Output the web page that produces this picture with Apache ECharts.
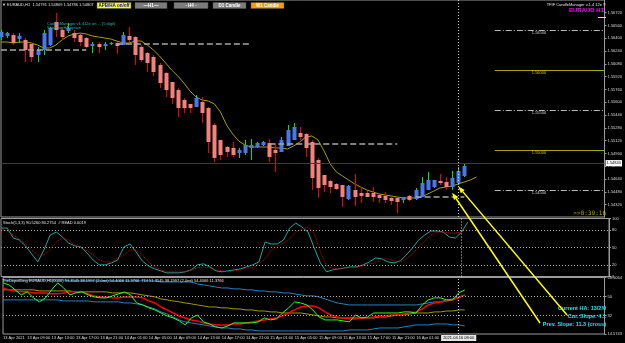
<!DOCTYPE html>
<html>
<head>
<meta charset="UTF-8">
<script src="https://cdn.jsdelivr.net/npm/echarts@6/dist/echarts.min.js"></script>
<title></title>
<style>
html, body { margin: 0; padding: 0; background: #000; }
#main { width: 625px; height: 343px; }
</style>
</head>
<body>
<div id="main"></div>
<script type="text/javascript">
// H1 bars, 13 Apr 05:00 .. 16 Apr 09:00
var openP = [1.56416,1.56429,1.56441,1.56391,1.56379,1.56329,1.56191,1.56254,1.56316,1.56604,
    1.56504,1.56491,1.56466,1.56441,1.56404,1.56304,1.56329,1.56304,1.56329,1.56341,
    1.56316,1.56429,1.56416,1.56291,1.56216,1.56166,1.56066,1.55966,1.55854,1.55754,
    1.55629,1.55579,1.55541,1.55604,1.55529,1.55316,1.55129,1.55041,1.55029,1.54966,
    1.54966,1.55029,1.55041,1.55066,1.55091,1.55004,1.54979,1.55054,1.55129,1.55216,
    1.55204,1.55104,1.54879,1.54691,1.54616,1.54579,1.54566,1.54391,1.54504,1.54466,
    1.54466,1.54466,1.54441,1.54429,1.54404,1.54404,1.54379,1.54429,1.54391,1.54416,
    1.54504,1.54541,1.54616,1.54604,1.54541,1.54591,1.54679];
var closeP = [1.56479,1.56466,1.56341,1.56429,1.56254,1.56166,1.56254,1.56466,1.56529,1.56504,
    1.56416,1.56529,1.56404,1.56354,1.56291,1.56329,1.56291,1.56329,1.56341,1.56304,
    1.56441,1.56379,1.56191,1.56129,1.56091,1.55979,1.55841,1.55754,1.55654,1.55529,
    1.55529,1.55529,1.55654,1.55466,1.55104,1.54904,1.54941,1.54979,1.54941,1.55004,
    1.55066,1.55066,1.55091,1.55104,1.54916,1.54966,1.55129,1.55254,1.55291,1.55166,
    1.55029,1.54654,1.54529,1.54566,1.54541,1.54516,1.54416,1.54554,1.54416,1.54429,
    1.54416,1.54416,1.54404,1.54379,1.54366,1.54354,1.54416,1.54379,1.54504,1.54591,
    1.54629,1.54629,1.54591,1.54541,1.54654,1.54741,1.54804];
var lowP = [1.56379,1.56404,1.56316,1.56341,1.56104,1.56104,1.56104,1.56191,1.56304,1.56416,
    1.56379,1.56466,1.56354,1.56304,1.56279,1.56216,1.56216,1.56254,1.56316,1.56204,
    1.56316,1.56354,1.56066,1.56104,1.55979,1.55929,1.55779,1.55666,1.55579,1.55416,
    1.55466,1.55466,1.55541,1.55341,1.54966,1.54854,1.54879,1.54916,1.54916,1.54904,
    1.54941,1.54879,1.55029,1.55054,1.54854,1.54729,1.54979,1.55054,1.55129,1.55129,
    1.54916,1.54504,1.54404,1.54479,1.54466,1.54504,1.54291,1.54379,1.54304,1.54341,
    1.54416,1.54354,1.54341,1.54341,1.54316,1.54216,1.54341,1.54366,1.54379,1.54416,
    1.54504,1.54529,1.54566,1.54504,1.54504,1.54566,1.54666];
var highP = [1.56504,1.56479,1.56466,1.56466,1.56404,1.56341,1.56291,1.56504,1.56541,1.56716,
    1.56541,1.56591,1.56504,1.56466,1.56416,1.56354,1.56354,1.56354,1.56354,1.56354,
    1.56479,1.56541,1.56429,1.56316,1.56229,1.56191,1.56091,1.55979,1.55854,1.55779,
    1.55654,1.55579,1.55691,1.55666,1.55541,1.55341,1.55129,1.55054,1.55104,1.55029,
    1.55129,1.55141,1.55104,1.55116,1.55141,1.55091,1.55166,1.55316,1.55341,1.55291,
    1.55216,1.55129,1.54904,1.54691,1.54629,1.54591,1.54566,1.54566,1.54704,1.54541,
    1.54491,1.54541,1.54466,1.54479,1.54416,1.54416,1.54416,1.54441,1.54529,1.54666,
    1.54729,1.54629,1.54704,1.54666,1.54741,1.54791,1.54841];
// shifted moving average (runs two bars past the last candle)
var maLine = [1.56354,1.56354,1.56341,1.56354,1.56354,1.56341,1.56316,1.56279,1.56279,1.56316,
    1.56379,1.56429,1.56454,1.56466,1.56454,1.56429,1.56416,1.56404,1.56391,1.56366,
    1.56341,1.56341,1.56366,1.56366,1.56316,1.56254,1.56179,1.56091,1.56004,1.55929,
    1.55841,1.55741,1.55666,1.55629,1.55616,1.55579,1.55479,1.55316,1.55204,1.55116,
    1.55066,1.55041,1.55041,1.55041,1.55041,1.55029,1.55029,1.55016,1.55054,1.55104,
    1.55166,1.55179,1.55129,1.54991,1.54829,1.54729,1.54679,1.54629,1.54579,1.54541,
    1.54504,1.54479,1.54454,1.54441,1.54429,1.54416,1.54404,1.54404,1.54404,1.54416,
    1.54454,1.54491,1.54529,1.54541,1.54554,1.54579,1.54604,1.54629,1.54666];

var stochMain = [83.5,83.5,66.4,62.9,52.7,38.9,25.2,45.8,71.5,76.7,
    68.1,57.8,52.7,50.9,40.6,28.6,20.1,20.1,23.5,28.6,
    50.9,56.1,42.4,26.9,18.4,13.2,9.8,6.3,6.3,6.3,
    8.1,11.5,20.1,21.8,16.6,9.8,8.1,9.8,11.5,13.2,
    16.6,20.1,25.2,59.5,56.1,56.1,62.9,83.5,92.1,85.2,
    76.7,49.2,23.5,8.1,11.5,13.2,14.9,16.6,16.6,20.1,
    25.2,32.1,30.4,25.2,23.5,26.9,37.2,49.2,62.9,71.5,
    78.4,78.4,76.7,68.1,66.4,76.7,93.8];
var stochSignal = [81.8,78.4,71.5,64.7,56.1,45.8,37.2,37.2,45.8,59.5,
    66.4,62.9,54.4,49.2,44.1,37.2,28.6,25.2,25.2,32.1,
    37.2,45.8,45.8,37.2,25.2,16.6,11.5,8.1,8.1,8.1,
    8.1,11.5,14.9,16.6,14.9,11.5,9.8,8.1,9.8,11.5,
    14.9,14.9,21.8,30.4,45.8,52.7,57.8,64.7,76.7,81.8,
    85.2,74.9,42.4,20.1,13.2,13.2,14.9,14.9,16.6,18.4,
    21.8,23.5,30.4,30.4,26.9,25.2,30.4,38.9,50.9,61.2,
    71.5,76.7,76.7,74.9,74.9,76.7,85.2];

var tdiUpper = [65.8,65.8,65.8,65.8,65.8,65.8,65.8,65.8,65.8,65.8,
    65.8,64.9,64.9,64.9,64.9,64.9,64.9,64.9,64.9,64.9,
    64.9,64.9,64.9,64.9,64.9,64.9,63.9,63.9,63.9,63.9,
    63.9,63.9,62.0,61.1,60.1,59.2,58.2,58.2,57.3,57.3,
    56.4,56.4,55.4,55.4,54.5,54.5,53.5,53.5,52.6,51.6,
    50.7,50.7,49.7,47.8,45.9,44.0,43.1,42.1,42.1,42.1,
    42.1,42.1,42.1,42.1,42.1,42.1,42.1,42.1,42.1,43.1,
    44.0,45.0,45.0,46.9,47.8,49.7,51.6];
var tdiLower = [46.9,46.9,46.9,46.9,46.9,46.9,46.9,46.9,46.9,46.9,
    45.9,45.9,45.9,45.9,45.9,45.0,45.0,45.0,45.0,45.0,
    44.0,44.0,43.1,42.1,40.2,38.3,35.5,33.6,30.7,27.9,
    26.0,25.1,24.1,23.2,22.2,21.3,20.3,20.3,19.4,19.4,
    18.4,18.4,17.5,17.5,17.5,17.5,17.5,17.5,17.5,17.5,
    17.5,17.5,17.5,17.5,17.5,17.5,17.5,18.4,18.4,18.4,
    18.4,19.4,20.3,20.3,20.3,20.3,21.3,22.2,23.2,23.2,
    23.2,24.1,24.1,24.1,23.2,23.2,22.2];
var tdiMid = [56.4,56.4,56.4,56.4,56.4,56.4,55.4,55.4,55.4,55.4,
    55.4,55.4,54.5,54.5,54.5,54.5,54.5,54.5,53.5,53.5,
    53.5,53.5,52.6,51.6,50.7,49.7,47.8,46.9,45.9,45.0,
    44.0,43.1,42.1,41.2,40.2,40.2,39.3,39.3,38.3,38.3,
    37.4,37.4,36.4,36.4,35.5,35.5,34.5,34.5,34.5,34.5,
    33.6,32.6,31.7,30.7,30.7,29.8,29.8,29.8,29.8,29.8,
    29.8,29.8,30.7,30.7,31.7,32.6,32.6,33.6,34.5,34.5,
    34.5,35.5,35.5,36.4,36.4,37.4,37.4];
var tdiSignal = [58.2,56.4,55.4,54.5,54.5,53.5,53.5,53.5,52.6,52.6,
    53.5,54.5,54.5,54.5,52.6,50.7,49.7,49.7,48.8,48.8,
    49.7,49.7,49.7,48.8,45.9,44.0,40.2,37.4,34.5,31.7,
    29.8,27.9,27.0,25.1,24.1,23.2,23.2,23.2,24.1,24.1,
    25.1,26.0,27.0,27.9,28.9,29.8,31.7,34.5,37.4,40.2,
    41.2,41.2,39.3,35.5,32.6,30.7,29.8,28.9,28.9,29.8,
    29.8,30.7,31.7,31.7,32.6,32.6,33.6,34.5,35.5,38.3,
    42.1,44.0,45.0,45.9,46.9,48.8,51.6];
var tdiRsi = [63.0,61.1,56.4,51.6,54.5,48.8,45.0,48.8,56.4,63.0,
    58.2,51.6,53.5,54.5,51.6,49.7,48.8,48.8,50.7,52.6,
    54.5,51.6,44.0,42.1,39.3,37.4,34.5,31.7,29.8,27.0,
    23.2,29.8,32.6,26.0,24.1,21.3,20.3,22.2,25.1,25.1,
    25.1,25.1,26.0,29.8,27.9,28.9,34.5,39.3,45.0,44.0,
    42.1,37.4,30.7,27.9,27.9,27.9,27.0,26.0,32.6,29.8,
    30.7,34.5,34.5,34.5,34.5,34.5,35.5,35.5,34.5,42.1,
    46.9,48.8,48.8,46.9,46.9,53.5,56.4];

// one label every 4 bars
var timeLabels = ['13 Apr 2021','13 Apr 09:00','13 Apr 13:00','13 Apr 17:00','13 Apr 21:00',
    '14 Apr 01:00','14 Apr 05:00','14 Apr 09:00','14 Apr 13:00','14 Apr 17:00','14 Apr 21:00',
    '15 Apr 01:00','15 Apr 05:00','15 Apr 09:00','15 Apr 13:00','15 Apr 17:00','15 Apr 21:00',
    '16 Apr 01:00','16 Apr 05:00'];
var priceTicks = [1.5672,1.5656,1.5640,1.5624,1.5608,1.5592,1.5576,1.5560,1.5544,1.5528,
    1.5512,1.5496,1.5480,1.5464,1.5448,1.5432];
var stochTicks = [100, 80, 50, 20, 0];
var stochLevels = [80, 50, 20];
var tdiTicks = [68.1064, 50, 32, 14.5743];
var tdiLevels = [50, 32];

// [fromBar, toBar, price]
var srLevels = [[0, 14, 1.56254], [19, 41, 1.56329], [44, 65, 1.55079], [68, 76, 1.54416]];
var roundLevels = [1.565, 1.56, 1.555, 1.55, 1.545];
var bidPrice = 1.5484;
var cursorBar = 75;
var arrowTargets = [[74, 1.5447], [75, 1.5455]];

var FONT = 'Liberation Sans';
var SLOTS = 100;

var slots = [];
for (var k = 0; k < SLOTS; k++) slots.push(String(k));

var candles = openP.map(function (o, i) {
    return [i, o, closeP[i], lowP[i], highP[i]];
});

function renderCandle(params, api) {
    var i = api.value(0);
    var o = api.value(1), c = api.value(2);
    var pO = api.coord([i, o]), pC = api.coord([i, c]);
    var pL = api.coord([i, api.value(3)]), pH = api.coord([i, api.value(4)]);
    var up = c >= o;
    var x = Math.round(pO[0]) + 0.5;
    var top = Math.min(pO[1], pC[1]), bot = Math.max(pO[1], pC[1]);
    return {
        type: 'group',
        children: [{
            type: 'line',
            shape: { x1: x, y1: pH[1], x2: x, y2: pL[1] },
            style: { stroke: up ? '#00e800' : '#f00000', lineWidth: 1 }
        }, {
            type: 'rect',
            shape: { x: x - 2, y: top, width: 4, height: Math.max(bot - top, 1) },
            style: { fill: up ? '#4a78e8' : '#f4827c' }
        }]
    };
}

function xAxisFor(grid, withLabels) {
    return {
        type: 'category', gridIndex: grid, data: slots, boundaryGap: false,
        axisLine: { show: false }, axisTick: { show: false }, splitLine: { show: false },
        axisLabel: withLabels ? {
            show: true, interval: 0, color: '#d8d8d8', fontSize: 4, fontFamily: FONT,
            align: 'left', margin: 2,
            formatter: function (v, idx) {
                return (idx % 4 === 0 && idx / 4 < timeLabels.length) ? timeLabels[idx / 4] : '';
            }
        } : { show: false }
    };
}

function yAxisFor(grid, min, max, ticks, digits) {
    return {
        type: 'value', gridIndex: grid, position: 'right', min: min, max: max,
        axisLine: { show: true, lineStyle: { color: '#9a9a9a' } },
        axisTick: { show: true, length: 2, customValues: ticks, lineStyle: { color: '#9a9a9a' } },
        splitLine: { show: false },
        axisLabel: {
            customValues: ticks, color: '#d8d8d8', fontSize: 4, fontFamily: FONT, margin: 3,
            formatter: function (v) {
                var t = ticks.filter(function (q) { return Math.abs(q - v) < 1e-6; })[0];
                return t === undefined ? '' : t.toFixed(digits(t));
            }
        }
    };
}

var dotted = { type: [1, 2], color: '#a8a8a8', width: 1 };
var cursorStyle = { type: [1, 2], color: '#d0d0d0', width: 1 };

var mainMarks = [];
srLevels.forEach(function (s) {
    mainMarks.push([{ coord: [s[0], s[2]], lineStyle: { type: [6, 3], color: '#a8a8a8', width: 1.5 } },
        { coord: [s[1], s[2]] }]);
});
roundLevels.forEach(function (p, n) {
    var solid = n % 2 === 1;
    mainMarks.push([{
        coord: [81, p],
        lineStyle: solid ? { type: 'solid', color: '#a8a400', width: 1 }
                         : { type: [6, 2, 1, 2], color: '#b8b8b8', width: 1 },
        label: { show: true, position: 'insideStartBottom', distance: [37, 1], formatter: p.toFixed(5),
                 color: solid ? '#c8c400' : '#d0d0d0', fontSize: 4, fontFamily: FONT }
    }, { coord: [SLOTS - 1, p] }]);
});
mainMarks.push({
    yAxis: bidPrice, lineStyle: { type: 'solid', color: '#3c3c3c', width: 1 },
    label: { show: true, position: 'end', distance: 1, formatter: bidPrice.toFixed(5),
             backgroundColor: '#ffffff', color: '#000000', fontSize: 4, fontFamily: FONT, padding: [1, 1] }
});
mainMarks.push({ xAxis: cursorBar, lineStyle: cursorStyle });

var option = {
    backgroundColor: '#000000',
    animation: false,
    grid: [
        { left: 1, right: 16, top: 0, height: 217, show: true, borderColor: '#9a9a9a', borderWidth: 1 },
        { left: 1, right: 16, top: 218.5, height: 58, show: true, borderColor: '#9a9a9a', borderWidth: 1 },
        { left: 1, right: 16, top: 277.5, height: 56.5, show: true, borderColor: '#9a9a9a', borderWidth: 1 }
    ],
    xAxis: [xAxisFor(0, false), xAxisFor(1, false), xAxisFor(2, true)],
    yAxis: [
        yAxisFor(0, 1.54166, 1.56879, priceTicks, function () { return 5; }),
        yAxisFor(1, 0, 100, stochTicks, function () { return 0; }),
        yAxisFor(2, 14.5743, 68.1064, tdiTicks, function (t) { return t % 1 === 0 ? 0 : 4; })
    ],
    series: [{
        name: 'MA', type: 'line', xAxisIndex: 0, yAxisIndex: 0, data: maLine,
        symbol: 'none', lineStyle: { color: '#a89e00', width: 1 }, z: 2,
        markLine: { silent: true, symbol: 'none', precision: 6, label: { show: false }, data: mainMarks }
    }, {
        name: 'Candles', type: 'custom', xAxisIndex: 0, yAxisIndex: 0,
        renderItem: renderCandle, data: candles, encode: { x: 0, y: [1, 2, 3, 4] }, z: 3
    }, {
        name: 'Stoch', type: 'line', xAxisIndex: 1, yAxisIndex: 1, data: stochMain,
        symbol: 'none', lineStyle: { color: '#1fa5a0', width: 1 },
        markLine: {
            silent: true, symbol: 'none', label: { show: false },
            data: stochLevels.map(function (v) { return { yAxis: v, lineStyle: dotted }; })
                .concat([{ xAxis: cursorBar, lineStyle: cursorStyle }])
        }
    }, {
        name: 'Signal', type: 'line', xAxisIndex: 1, yAxisIndex: 1, data: stochSignal,
        symbol: 'none', lineStyle: { color: '#d00000', width: 1, type: [1, 1] }
    }, {
        name: 'Upper', type: 'line', xAxisIndex: 2, yAxisIndex: 2, data: tdiUpper,
        symbol: 'none', lineStyle: { color: '#2383c4', width: 1 },
        markLine: {
            silent: true, symbol: 'none', label: { show: false },
            data: tdiLevels.map(function (v) { return { yAxis: v, lineStyle: dotted }; })
                .concat([{
                    xAxis: cursorBar, lineStyle: cursorStyle,
                    label: { show: true, position: 'start', distance: 1, formatter: '2021.04.16 08:00',
                             backgroundColor: '#e6e6e6', color: '#000000', fontSize: 4, fontFamily: FONT,
                             padding: [1, 2] }
                }])
        }
    }, {
        name: 'Lower', type: 'line', xAxisIndex: 2, yAxisIndex: 2, data: tdiLower,
        symbol: 'none', lineStyle: { color: '#2383c4', width: 1 }
    }, {
        name: 'Mid', type: 'line', xAxisIndex: 2, yAxisIndex: 2, data: tdiMid,
        symbol: 'none', lineStyle: { color: '#a09a00', width: 1 }
    }, {
        name: 'Trade signal', type: 'line', xAxisIndex: 2, yAxisIndex: 2, data: tdiSignal,
        symbol: 'none', lineStyle: { color: '#ff0000', width: 1.5 }, z: 4
    }, {
        name: 'RSI', type: 'line', xAxisIndex: 2, yAxisIndex: 2, data: tdiRsi,
        symbol: 'none', lineStyle: { color: '#22ff22', width: 1 }, z: 5
    }]
};

var chart = echarts.init(document.getElementById('main'));
chart.setOption(option);

// texts and buttons drawn by the indicators on the chart window
function txt(x, y, s, fill, size, extra) {
    var st = { text: s, fill: fill, fontSize: size, fontFamily: FONT, verticalAlign: 'middle', align: 'left' };
    for (var key in extra) st[key] = extra[key];
    return { type: 'text', x: x, y: y, style: st, z: 20 };
}
var buttons = [
    ['APB/HA on/off', 97, 34, '#ffff00', '#0000ff'],
    ['\u2014H1\u2014', 135, 32, '#7c7c7c', '#ffffff'],
    ['- H4 -', 174, 34, '#7c7c7c', '#ffffff'],
    ['D1 Candle', 213, 33, '#7c7c7c', '#ffffff'],
    ['W1 Candle', 251, 33, '#ff9900', '#ffffff']
];
var g = [];
buttons.forEach(function (b) {
    g.push({ type: 'rect', shape: { x: b[1], y: 2.5, width: b[2], height: 6 },
             style: { fill: b[3], stroke: '#505050', lineWidth: 0.5 }, z: 20 });
    g.push(txt(b[1] + b[2] / 2, 5.6, b[0], b[4], 4.5, { align: 'center', fontWeight: 'bold' }));
});
g.push(txt(2, 5, '\u25BC EURAUD,H1  1.54791 1.54809 1.54786 1.54807', '#e0e0e0', 4));
g.push(txt(47, 23.5, 'CandleManager v1.412e on ... (5 digit)', '#22b5ad', 4));
g.push(txt(47, 27.5, 'Showing HA option', '#22b5ad', 4));
g.push(txt(606, 4.5, 'TFIF CandleManager v.1.4 12e \u00A9', '#e0e0e0', 4, { align: 'right' }));
g.push(txt(604, 10, 'EURAUD H1', '#ff00ff', 6, { align: 'right', fontWeight: 'bold' }));
g.push({ type: 'line', shape: { x1: 598, y1: 17.5, x2: 606, y2: 17.5 }, style: { stroke: '#ffff00', lineWidth: 1 }, z: 20 });
g.push(txt(606, 213, '>>0:39:16', '#a8a400', 6, { align: 'right', fontFamily: 'DejaVu Sans Mono' }));
g.push(txt(3, 222.5, 'Stoch(5,3,3) 90.5260 80.2754  # READ 0.0019', '#e0e0e0', 4));
g.push(txt(2, 280.5, 'TheDepotDing EURAUD,H1(0000) 51.3545 38.1997 (2.0mt) 54.4066 11.3766  TDI 51.3545 38.1997 (2.0mt) 54.4066 11.3766', '#e0e0e0', 4));
g.push(txt(606, 308, 'Current HA: 13/2/0', '#19e6f0', 5.5, { align: 'right', fontWeight: 'bold' }));
g.push(txt(606, 316, 'Cur. Slope: 4.1', '#19e6f0', 5.5, { align: 'right', fontWeight: 'bold' }));
g.push(txt(606, 324.5, 'Prev. Slope: 11.3 (cross)', '#19e6f0', 5.5, { align: 'right', fontWeight: 'bold' }));

// yellow arrows from the slope labels to the last bars
var tails = [[540, 323], [567, 315]];
arrowTargets.forEach(function (t, n) {
    var tip = chart.convertToPixel({ gridIndex: 0 }, t);
    var tail = tails[n];
    var dx = tip[0] - tail[0], dy = tip[1] - tail[1];
    var len = Math.sqrt(dx * dx + dy * dy);
    var ux = dx / len, uy = dy / len;
    var bx = tip[0] - ux * 7, by = tip[1] - uy * 7;
    g.push({ type: 'line', shape: { x1: tail[0], y1: tail[1], x2: bx, y2: by },
             style: { stroke: '#ffff00', lineWidth: 1.5 }, z: 21 });
    g.push({ type: 'polygon', shape: { points: [[tip[0], tip[1]], [bx - uy * 2.5, by + ux * 2.5], [bx + uy * 2.5, by - ux * 2.5]] },
             style: { fill: '#ffff00' }, z: 21 });
});
chart.setOption({ graphic: g });
</script>
</body>
</html>
